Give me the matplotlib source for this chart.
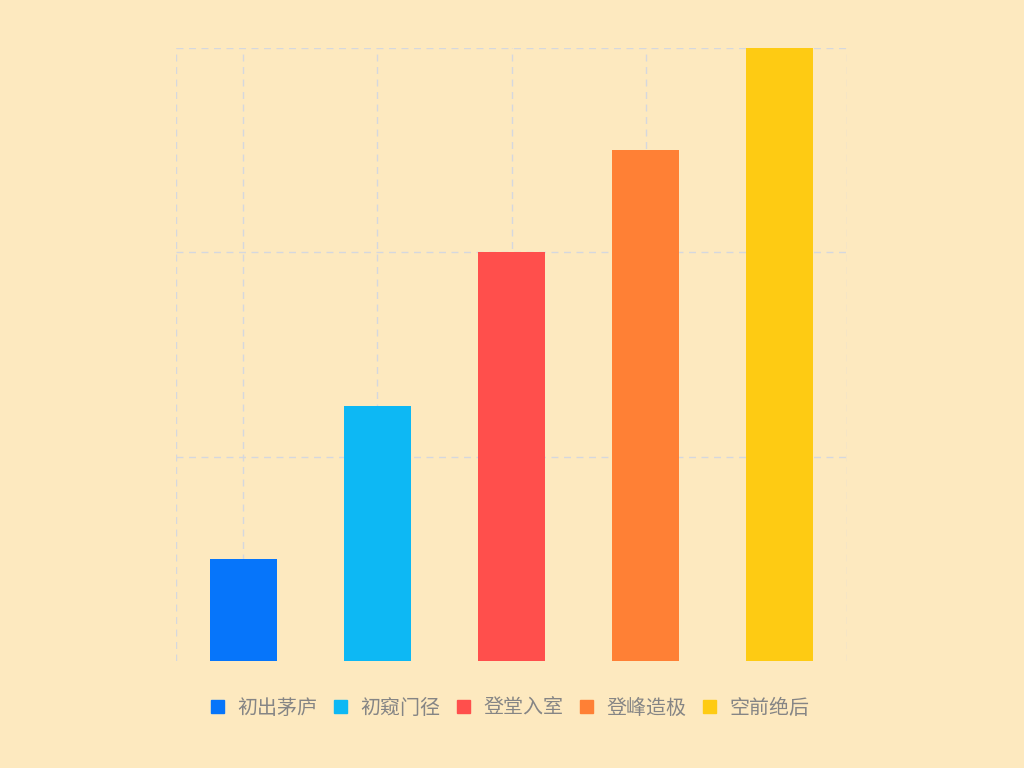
import matplotlib.pyplot as plt
import numpy as np

plt.rcParams['font.family'] = ['Noto Sans CJK SC', 'DejaVu Sans']

levels = ['初出茅庐', '初窥门径', '登堂入室', '登峰造极', '空前绝后']
values = [1, 2.5, 4, 5, 6]
colors = ['#0675FA', '#0DB8F4', '#FF4F4C', '#FF8035', '#FECB13']
bg = '#FDE9BF'

fig = plt.figure(figsize=(10.24, 7.68), dpi=100, facecolor=bg)
ax = fig.add_axes([176 / 1024, 1 - 661 / 768, 671 / 1024, 613 / 768])
ax.set_facecolor(bg)

x = np.arange(len(levels))
bars = ax.bar(x, values, width=0.5, color=colors, zorder=3, label=levels)

ax.set_xlim(-0.5, len(levels) - 0.5)
ax.set_ylim(0, 6)

grid_kw = dict(color='#D5D8DE', linestyle=(0, (5, 4)), linewidth=1, zorder=1)
for gx in [-0.5, 0, 1, 2, 3, 4, 4.5]:
    ax.axvline(gx, **grid_kw)
for gy in [2, 4, 6]:
    ax.axhline(gy, **grid_kw)

for s in ax.spines.values():
    s.set_visible(False)
ax.set_xticks([])
ax.set_yticks([])

handles = [plt.Rectangle((0, 0), 1, 1, color=c) for c in colors]
fig.legend(handles, levels, loc='center', bbox_to_anchor=(510 / 1024, 1 - 708 / 768),
           ncol=5, frameon=False, fontsize=14.4, labelcolor='#858585',
           handlelength=0.65, handleheight=0.65, handletextpad=0.7, columnspacing=0.8)

fig.savefig('out.png', dpi=100, facecolor=bg)
